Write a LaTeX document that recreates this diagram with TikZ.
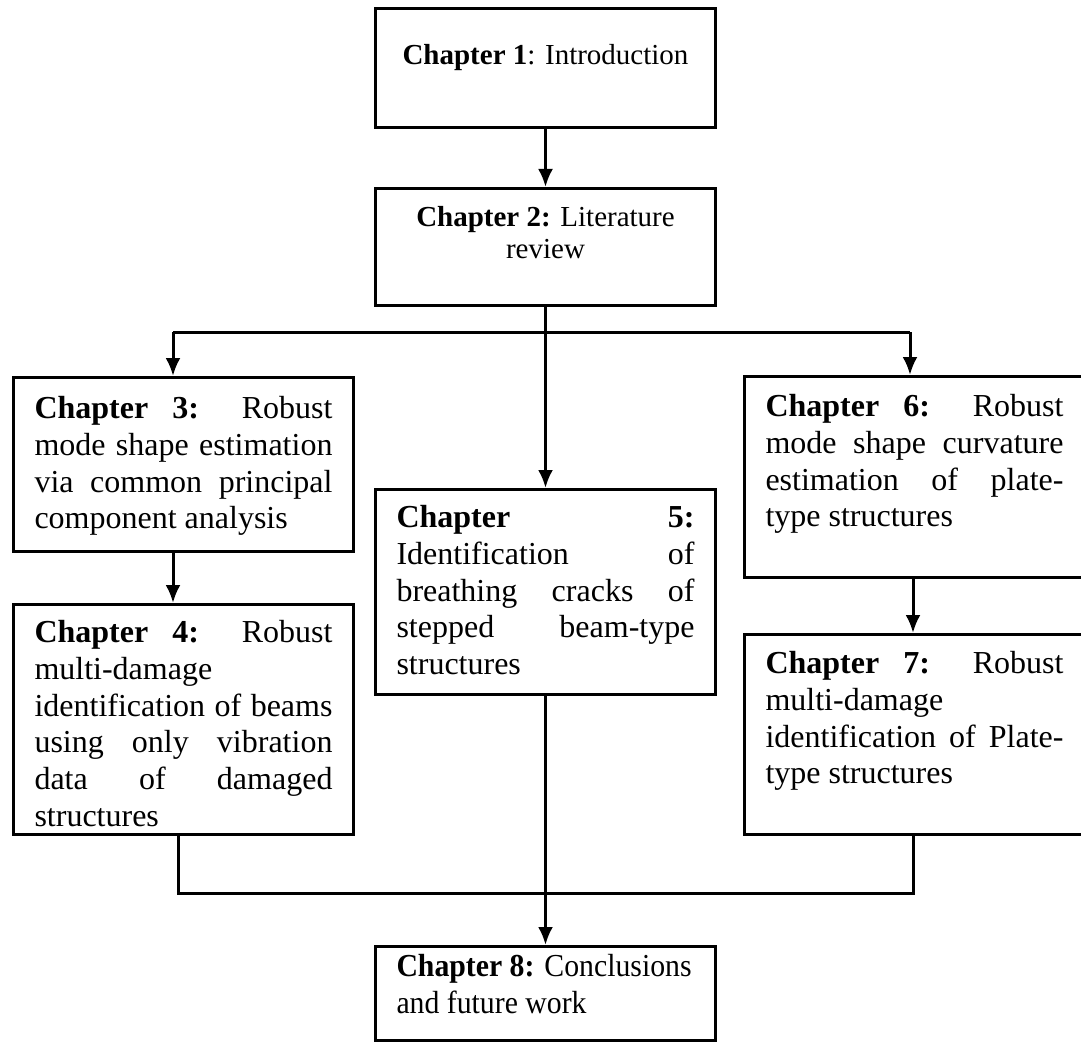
\documentclass[tikz,border=0pt]{standalone}
\usepackage{fontspec}
\setmainfont{Liberation Serif}
\newfontfamily\narrowserif[FakeStretch=0.93]{Liberation Serif}
\usepackage{tikz}
\usetikzlibrary{arrows.meta}
\tikzset{>={Latex[length=18pt,width=15pt]}}
\tikzset{chap/.style={draw,line width=3pt,inner xsep=21pt,inner ysep=0pt,anchor=north west,
    font=\fontsize{32pt}{36.7pt}\selectfont}}
\tikzset{smallchap/.style={chap,font=\fontsize{29pt}{32pt}\selectfont}}
\newcommand{\chaptext}[3]{\parbox[t][#1][t]{298pt}{\hyphenpenalty=10000\exhyphenpenalty=10000
    \tolerance=10000\hbadness=10000\vspace*{#2}#3}}

\begin{document}
\begin{tikzpicture}[x=1pt,y=-1pt,line width=3pt]
    \useasboundingbox (0,0) rectangle (1081,1043);
    \node[smallchap] (ch1) at (374,7) {\chaptext{119pt}{36pt}{\centering\textbf{Chapter 1}: Introduction}};
    \node[smallchap] (ch2) at (374,187) {\chaptext{117pt}{18pt}{\centering\textbf{Chapter 2:} Literature\\ review}};
    \node[chap] (ch3) at (12,376) {\chaptext{174pt}{19pt}{\textbf{Chapter 3:} Robust\linebreak
        mode shape estimation\linebreak via common principal\linebreak component analysis}};
    \node[chap] (ch4) at (12,603) {\chaptext{230pt}{16pt}{\textbf{Chapter 4:} Robust\linebreak
        multi-damage\\ identification of beams\linebreak using only vibration\linebreak
        data of damaged\linebreak structures}};
    \node[chap] (ch5) at (374,488) {\chaptext{205pt}{16pt}{\textbf{Chapter 5:}\linebreak
        Identification of\linebreak breathing cracks of\linebreak stepped beam-type\linebreak structures}};
    \node[chap] (ch6) at (743,375) {\chaptext{201pt}{18pt}{\textbf{Chapter 6:} Robust\linebreak
        mode shape curvature\linebreak estimation of plate-\linebreak type structures}};
    \node[chap] (ch7) at (743,633) {\chaptext{200pt}{17pt}{\textbf{Chapter 7:} Robust\linebreak
        multi-damage\\ identification of Plate-\linebreak type structures}};
    \node[chap,font=\narrowserif\fontsize{32pt}{37pt}\selectfont] (ch8) at (374,945)
        {\chaptext{94pt}{8pt}{\raggedright\textbf{Chapter 8:} Conclusions\\ and future work}};

    % fork below chapter 2, join above chapter 8
    \coordinate (fork) at (ch2.south |- 0,332);
    \coordinate (forkL) at (173,332);
    \coordinate (forkR) at (910,332);
    \coordinate (join) at (ch5.south |- 0,893);
    \coordinate (joinL) at (178,893);
    \coordinate (joinR) at (913,893);

    \draw[->] (ch1) -- (ch2);
    \draw[->] (ch2) -- (ch5);
    \draw (forkL) -- (forkR);
    \draw[->] (forkL) -- (forkL |- ch3.north);
    \draw[->] (forkR) -- (forkR |- ch6.north);
    \draw[->] (forkL |- ch3.south) -- (forkL |- ch4.north);
    \draw[->] (joinR |- ch6.south) -- (joinR |- ch7.north);
    \draw (joinL |- ch4.south) -- (joinL) -- (joinR) -- (joinR |- ch7.south);
    \draw[->] (ch5) -- (ch8);
\end{tikzpicture}
\end{document}
